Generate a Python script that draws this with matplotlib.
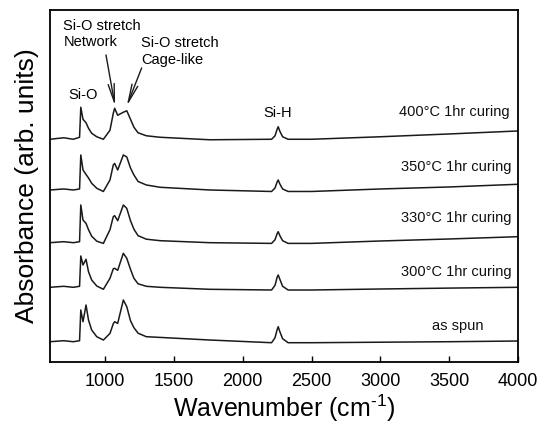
import numpy as np
import matplotlib
matplotlib.use("Agg")
import matplotlib.pyplot as plt

plt.rcParams['font.family'] = ['Liberation Sans', 'DejaVu Sans']
plt.rcParams['mathtext.fontset'] = 'custom'
plt.rcParams['mathtext.rm'] = 'Liberation Sans'

# wavenumber grid (cm-1) shared by all spectra
wavenumber = [600, 700, 770, 815, 824, 840, 862, 880, 903, 940, 988, 1036, 1060, 1070,
              1092, 1133, 1158, 1185, 1210, 1240, 1300, 1400, 1760, 2210, 2235, 2250,
              2258, 2270, 2290, 2330, 2500, 3000, 3500, 4000]

# absorbance (arb. units), each relative to its own baseline
as_spun = [0, 0.01, 0, 0.01, 0.317, 0.2, 0.367, 0.217, 0.117, 0.05, 0.017, 0.083, 0.18, 0.2,
           0.183, 0.417, 0.35, 0.21, 0.14, 0.085, 0.05, 0.043, 0.017, -0.01, 0.04, 0.12,
           0.15, 0.1, 0.03, -0.01, -0.01, -0.005, 0.0, 0.007]
cure_300 = [0, 0.01, 0, 0.01, 0.313, 0.223, 0.28, 0.156, 0.073, 0.013, -0.02, 0.09, 0.185, 0.19,
            0.17, 0.34, 0.29, 0.18, 0.09, 0.035, 0.01, 0.0, -0.02, -0.027, 0.02, 0.1,
            0.123, 0.08, 0.01, -0.027, -0.027, -0.017, -0.008, 0.0]
cure_330 = [0, 0.01, 0, 0.01, 0.377, 0.227, 0.193, 0.13, 0.065, 0.015, -0.007, 0.13, 0.26, 0.27,
            0.22, 0.377, 0.343, 0.22, 0.135, 0.07, 0.035, 0.02, 0.0, -0.007, 0.03, 0.09,
            0.11, 0.07, 0.02, -0.007, -0.007, 0.017, 0.037, 0.06]
cure_350 = [0, 0.01, 0, 0.01, 0.35, 0.2, 0.155, 0.12, 0.067, 0.017, -0.015, 0.1, 0.25, 0.265,
            0.2, 0.35, 0.33, 0.22, 0.15, 0.085, 0.05, 0.027, 0.0, -0.015, 0.02, 0.08,
            0.1, 0.06, 0.01, -0.015, -0.015, 0.01, 0.03, 0.057]
cure_400 = [0, 0.015, 0, 0.02, 0.32, 0.2, 0.165, 0.11, 0.06, 0.025, 0.0, 0.09, 0.26, 0.31,
            0.24, 0.27, 0.285, 0.2, 0.12, 0.065, 0.035, 0.02, -0.005, 0.0, 0.035, 0.1,
            0.125, 0.08, 0.025, 0.0, 0.0, 0.025, 0.053, 0.083]

spectra = [as_spun, cure_300, cure_330, cure_350, cure_400]
offsets = [0.203, 0.747, 1.193, 1.72, 2.227]
labels = ['as spun', '300°C 1hr curing', '330°C 1hr curing',
          '350°C 1hr curing', '400°C 1hr curing']
label_pos = [(3564, 0.36, 'center'), (3950, 0.903, 'right'), (3955, 1.443, 'right'),
             (3950, 1.953, 'right'), (3942, 2.503, 'right')]

fig = plt.figure(figsize=(5.43, 4.32), dpi=100)
ax = fig.add_axes([0.092, 0.162, 0.862, 0.815])

wn = np.array(wavenumber)
for y, off in zip(spectra, offsets):
    ax.plot(wn, np.array(y) + off, color='#1a1a1a', lw=1.1)

for lab, (x, y, ha) in zip(labels, label_pos):
    ax.text(x, y, lab, ha=ha, va='center', fontsize=10.5, color='#111111')

# peak assignments
ax.text(843, 2.67, 'Si-O', ha='center', va='center', fontsize=10.5)
ax.text(2257, 2.487, 'Si-H', ha='center', va='center', fontsize=10.5)
ax.text(697, 3.28, 'Si-O stretch\nNetwork', ha='left', va='center', fontsize=10.5,
        linespacing=1.2)
ax.text(1261, 3.105, 'Si-O stretch\nCage-like', ha='left', va='center', fontsize=10.5,
        linespacing=1.2)
arrow = dict(arrowstyle='->, head_length=1.3, head_width=0.22', color='#1a1a1a', lw=1.0,
             shrinkA=0, shrinkB=0)
ax.annotate('', xy=(1073, 2.56), xytext=(1007, 3.07), arrowprops=arrow)
ax.annotate('', xy=(1158, 2.56), xytext=(1266, 2.94), arrowprops=arrow)

ax.set_xlim(600, 4000)
ax.set_ylim(0, 3.52)
ax.set_xticks([1000, 1500, 2000, 2500, 3000, 3500, 4000])
ax.set_yticks([])
ax.tick_params(axis='x', direction='in', length=4, width=1, labelsize=13, pad=8)
for s in ax.spines.values():
    s.set_linewidth(1.3)
ax.set_xlabel(r'Wavenumber (cm$^{\text{-}1}$)', fontsize=18, labelpad=2)
ax.set_ylabel('Absorbance (arb. units)', fontsize=19, labelpad=8)

fig.savefig('out.png', dpi=100)
